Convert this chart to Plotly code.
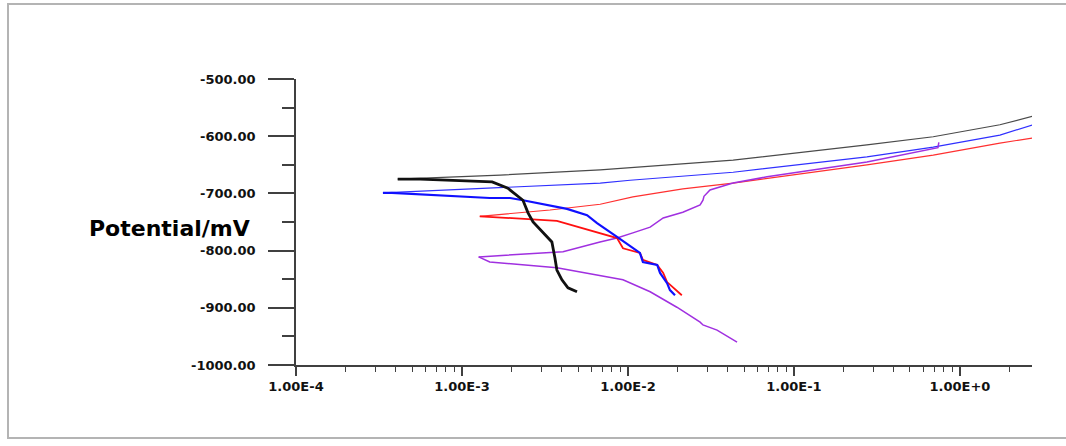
import plotly.graph_objects as go

# ---- data: current density (A) and potential (mV) ----
black_an_i = [4.1e-4, 1.7e-3, 6.8e-3, 4.3e-2, 0.275, 0.69, 1.74, 2.75]
black_an_e = [-675, -668, -659, -642, -615, -601, -580, -565]
black_ca_i = [4.1e-4, 5.6e-4, 1.52e-3, 1.89e-3, 2.33e-3, 2.50e-3, 2.68e-3, 3.08e-3,
              3.48e-3, 3.63e-3, 3.73e-3, 4.00e-3, 4.35e-3, 4.93e-3]
black_ca_e = [-675, -675, -680, -691, -712, -734, -750, -769, -785, -813, -834, -851, -865, -872]

blue_an_i = [3.34e-4, 8.5e-4, 2.23e-3, 6.8e-3, 1.03e-2, 4.3e-2, 0.275, 0.69, 1.74, 2.75]
blue_an_e = [-699, -694, -689, -682, -677, -663, -636, -619, -598, -580]
blue_ca_i = [3.34e-4, 3.78e-4, 1.47e-3, 1.95e-3, 2.33e-3, 4.29e-3, 5.67e-3, 6.51e-3, 8.59e-3,
             1.13e-2, 1.18e-2, 1.23e-2, 1.50e-2, 1.56e-2, 1.72e-2, 1.79e-2, 1.92e-2]
blue_ca_e = [-699, -699, -708, -708, -712, -727, -738, -752, -776, -799, -804, -820, -825,
             -839, -857, -869, -878]

red_an_i = [1.28e-3, 3.39e-3, 6.8e-3, 8.6e-3, 1.07e-2, 2.14e-2, 4.3e-2, 0.275, 0.69, 1.74, 2.75]
red_an_e = [-740, -729, -719, -712, -706, -692, -682, -650, -633, -612, -603]
red_ca_i = [1.28e-3, 1.47e-3, 3.73e-3, 8.59e-3, 8.95e-3, 9.33e-3, 1.18e-2, 1.23e-2, 1.50e-2,
            1.63e-2, 1.72e-2, 2.06e-2, 2.11e-2]
red_ca_e = [-740, -741, -748, -778, -787, -796, -804, -816, -825, -839, -855, -874, -878]

purple_an_i = [1.26e-3, 4.06e-3, 6.78e-3, 8.59e-3, 1.07e-2, 1.36e-2, 1.63e-2, 2.14e-2, 2.72e-2,
               2.83e-2, 2.87e-2, 3.12e-2, 4.29e-2, 6.88e-2, 0.275, 0.687, 0.737, 0.746]
purple_an_e = [-811, -802, -785, -778, -769, -759, -743, -733, -720, -712, -705, -694, -682,
               -671, -645, -621, -620, -611]
purple_ca_i = [1.26e-3, 1.47e-3, 3.73e-3, 6.78e-3, 9.33e-3, 1.36e-2, 1.97e-2, 2.72e-2, 2.83e-2,
               3.44e-2, 4.54e-2]
purple_ca_e = [-811, -820, -830, -843, -851, -872, -899, -925, -930, -939, -960]

y_ticks = [-1000, -900, -800, -700, -600, -500]
y_ticktext = ["-1000.00", "-900.00", "-800.00", "-700.00", "-600.00", "-500.00"]
y_minor = [-950, -850, -750, -650, -550]
x_ticks = [1e-4, 1e-3, 1e-2, 1e-1, 1e0]
x_ticktext = ["1.00E-4", "1.00E-3", "1.00E-2", "1.00E-1", "1.00E+0"]
x_minor = [m * d for d in x_ticks for m in range(2, 10)]

fig = go.Figure()

def add(xs, ys, color, width):
    fig.add_trace(go.Scatter(x=xs, y=ys, mode="lines",
                             line=dict(color=color, width=width),
                             showlegend=False, hoverinfo="skip"))

add(black_an_i, black_an_e, "#4a4a4a", 1.2)
add(blue_an_i, blue_an_e, "#3030ff", 1.2)
add(red_an_i, red_an_e, "#ff3030", 1.2)
add(purple_an_i, purple_an_e, "#a030e0", 1.5)
add(purple_ca_i, purple_ca_e, "#a030e0", 1.5)
add(red_ca_i, red_ca_e, "#ff1010", 1.8)
add(blue_ca_i, blue_ca_e, "#1010ff", 2.2)
add(black_ca_i, black_ca_e, "#111111", 2.8)

axis_col = "#404040"
tickfont = dict(family="DejaVu Sans", size=13, color="#111111", weight="bold")

fig.update_layout(
    width=1066, height=446,
    margin=dict(l=296, r=34, t=79, b=81),
    paper_bgcolor="white", plot_bgcolor="white",
    showlegend=False,
    xaxis=dict(type="log", range=[-4, 0.434], showgrid=False, zeroline=False,
               showline=True, linecolor=axis_col, linewidth=1.5,
               ticks="outside", ticklen=9, tickwidth=1.5, tickcolor=axis_col,
               tickmode="array", tickvals=x_ticks, ticktext=x_ticktext,
               tickfont=tickfont,
               minor=dict(tickmode="array", tickvals=x_minor, ticks="outside",
                          ticklen=5, tickwidth=1.2, tickcolor=axis_col, showgrid=False)),
    yaxis=dict(range=[-1000, -500], showgrid=False, zeroline=False,
               showline=True, linecolor=axis_col, linewidth=1.5,
               ticks="outside", ticklen=26, tickwidth=1.5, tickcolor=axis_col,
               tickmode="array", tickvals=y_ticks, ticktext=y_ticktext,
               tickfont=tickfont, ticklabelstandoff=10,
               minor=dict(tickmode="array", tickvals=y_minor, ticks="outside",
                          ticklen=12, tickwidth=1.5, tickcolor=axis_col, showgrid=False)),
    annotations=[dict(text="Potential/mV", xref="paper", yref="paper",
                      x=-0.0598, y=0.479, xanchor="right", yanchor="middle",
                      showarrow=False,
                      font=dict(family="DejaVu Sans", size=22, color="#000000", weight="bold"))],
    shapes=[dict(type="rect", xref="paper", yref="paper",
                 x0=-0.3913, x1=1.1, y0=-0.2552, y1=1.2622,
                 line=dict(color="#b4b4b4", width=2), layer="below")],
)

fig.write_html("out.html")
